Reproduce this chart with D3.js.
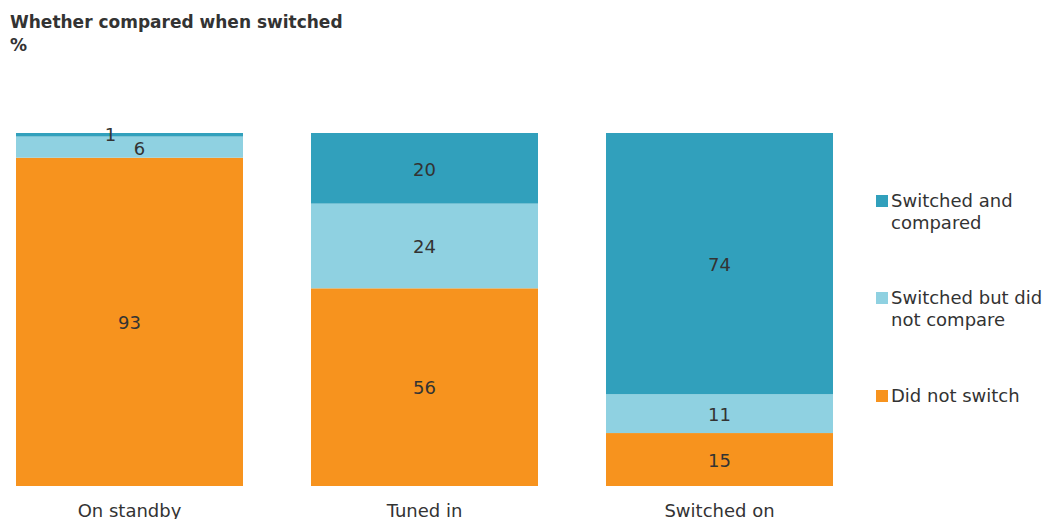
<html>
<style>
body { margin: 0; background: #fff; }
text { font-family: Verdana, "DejaVu Sans", sans-serif; fill: #333; }
</style>
<body>
<script src="https://d3js.org/d3.v7.min.js"></script>
<script>

var width = 1050,
    height = 519;

var categories = ["On standby", "Tuned in", "Switched on"];
var seriesNames = ["Did not switch", "Switched but did not compare", "Switched and compared"];
var didNotSwitch = [93, 56, 15];
var switchedNoCompare = [6, 24, 11];
var switchedCompared = [1, 20, 74];
var colors = ["#f7931e", "#8fd1e1", "#31a0bc"];

var rows = categories.map(function(c, i) {
  return { cat: c, s0: didNotSwitch[i], s1: switchedNoCompare[i], s2: switchedCompared[i] };
});

var stack = d3.stack().keys(["s0", "s1", "s2"]);
var layers = stack(rows);

var x = d3.scaleBand()
    .domain(categories)
    .range([16, 833])
    .paddingInner(68 / 295)
    .paddingOuter(0);

var y = d3.scaleLinear()
    .domain([0, 100])
    .range([486, 133]);

var svg = d3.select("body").append("svg")
    .attr("width", width)
    .attr("height", height);

svg.append("text")
    .attr("x", 10).attr("y", 28)
    .style("font-size", "17px").style("font-weight", "bold")
    .text("Whether compared when switched");
svg.append("text")
    .attr("x", 10).attr("y", 51)
    .style("font-size", "17px").style("font-weight", "bold")
    .text("%");

var g = svg.selectAll("g.layer")
    .data(layers)
    .enter().append("g")
    .attr("class", "layer")
    .attr("fill", function(d, i) { return colors[i]; });

g.selectAll("rect")
    .data(function(d) { return d; })
    .enter().append("rect")
    .attr("x", function(d) { return x(d.data.cat); })
    .attr("width", x.bandwidth())
    .attr("y", function(d) { return y(d[1]); })
    .attr("height", function(d) { return y(d[0]) - y(d[1]); });

// labels; small segments get nudged so they don't overlap
layers.forEach(function(layer, li) {
  layer.forEach(function(d) {
    var h = y(d[0]) - y(d[1]);
    var cx = x(d.data.cat) + x.bandwidth() / 2;
    var cy = (y(d[0]) + y(d[1])) / 2 + 1;
    if (h < 30) {
      if (li == 2) { cx -= 19; cy = y(d[1]) + 2; }
      else { cx += 10; cy += 1; }
    }
    svg.append("text")
      .attr("x", cx).attr("y", cy)
      .attr("text-anchor", "middle")
      .attr("dy", "0.35em")
      .style("font-size", "18px")
      .text(d[1] - d[0]);
  });
});

// x labels
svg.selectAll("text.xlab")
    .data(categories)
    .enter().append("text")
    .attr("class", "xlab")
    .attr("x", function(d) { return x(d) + x.bandwidth() / 2; })
    .attr("y", 517)
    .attr("text-anchor", "middle")
    .style("font-size", "18px")
    .text(function(d) { return d; });

// legend
var legend = [
  { name: ["Switched and", "compared"], color: colors[2], y: 201 },
  { name: ["Switched but did", "not compare"], color: colors[1], y: 298 },
  { name: ["Did not switch"], color: colors[0], y: 396 }
];

legend.forEach(function(l) {
  svg.append("rect")
    .attr("x", 876).attr("y", l.y - 6)
    .attr("width", 12).attr("height", 12)
    .attr("fill", l.color);
  var t = svg.append("text")
    .attr("x", 891).attr("y", l.y)
    .style("font-size", "18px");
  l.name.forEach(function(s, i) {
    t.append("tspan").attr("x", 891).attr("dy", i == 0 ? "0.35em" : "22").text(s);
  });
});

</script>
</body>
</html>
